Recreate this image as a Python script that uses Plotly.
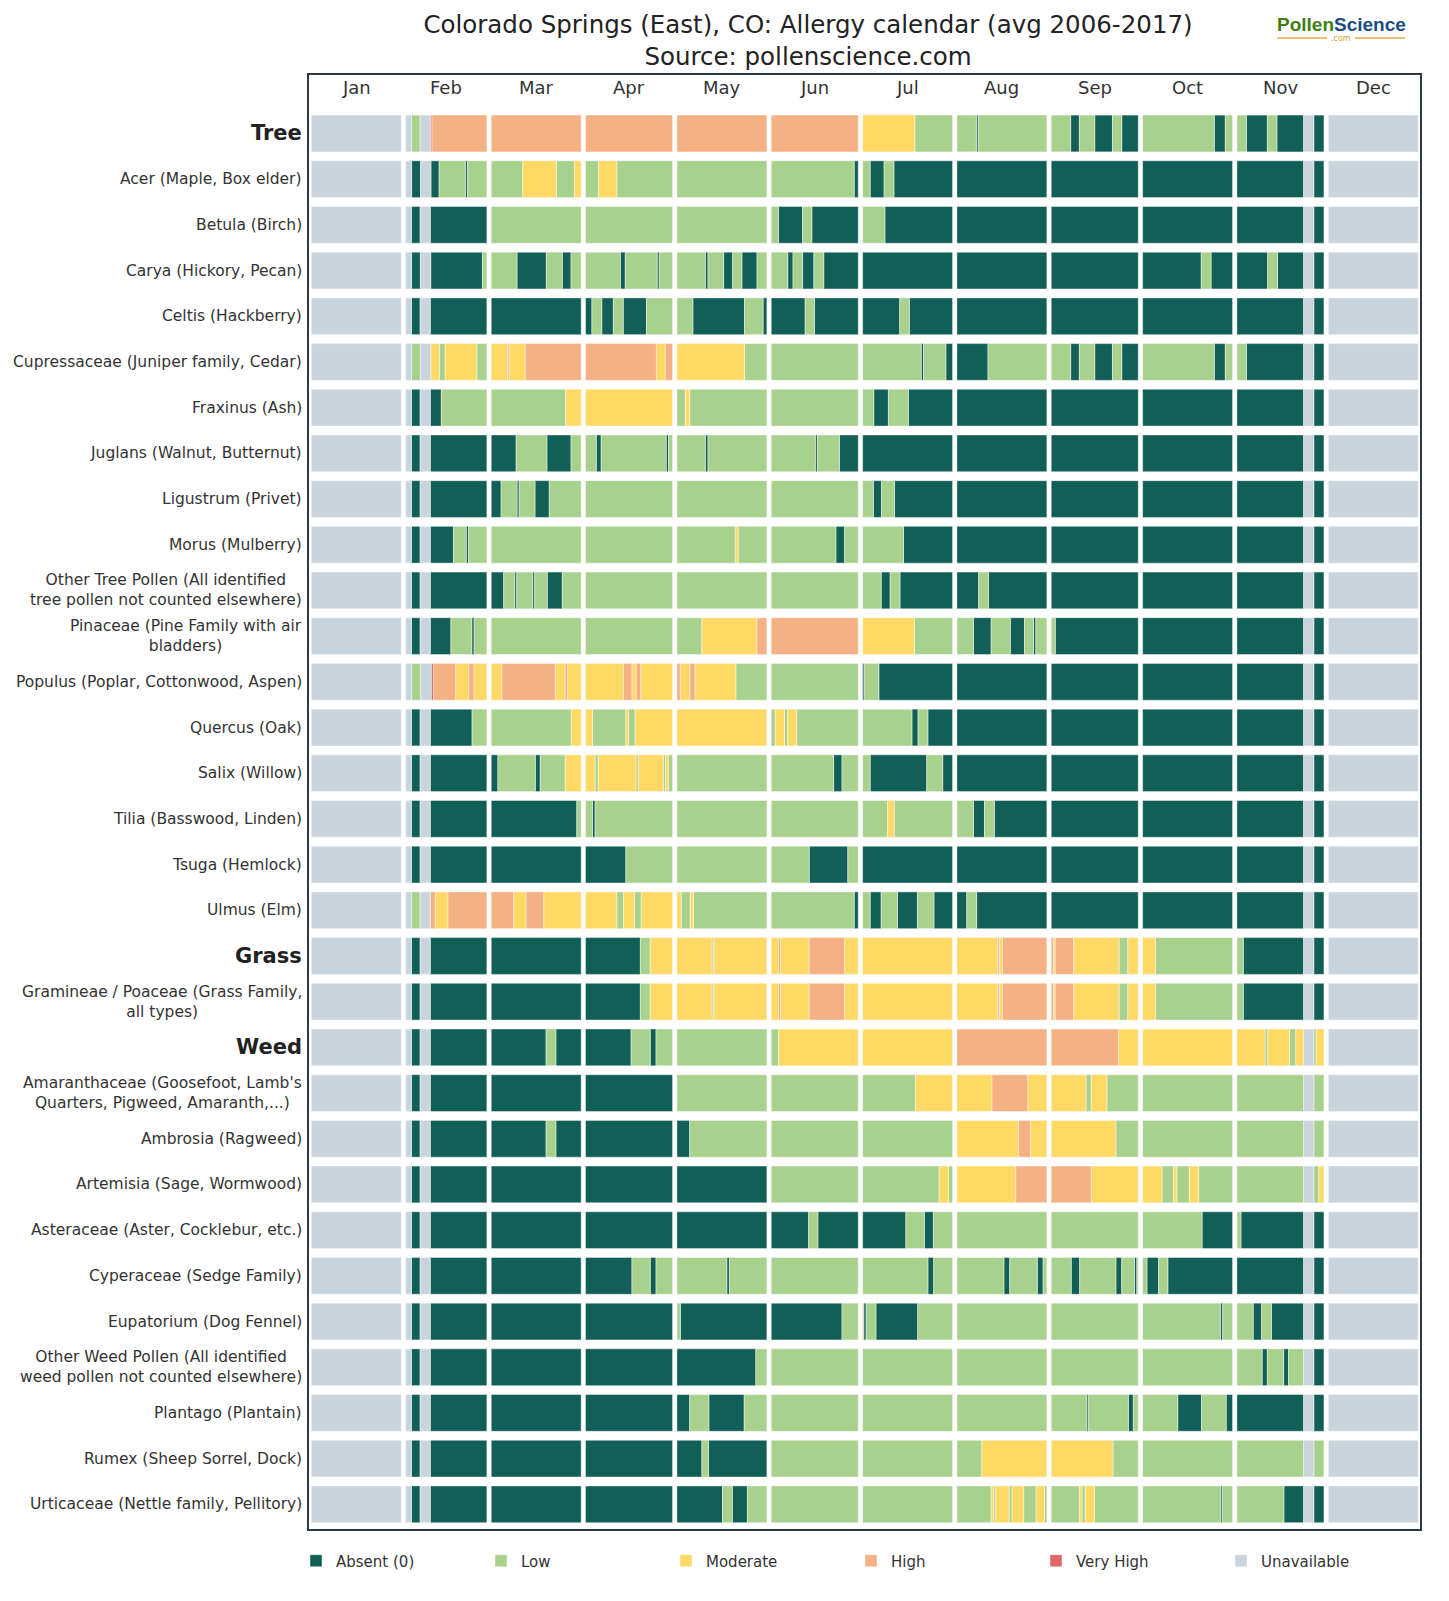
import plotly.graph_objects as go

# ---------------- data ----------------
months = ["Jan", "Feb", "Mar", "Apr", "May", "Jun", "Jul", "Aug", "Sep", "Oct", "Nov", "Dec"]
month_days = [31, 28, 31, 30, 31, 30, 31, 31, 30, 31, 30, 31]

level_codes = ["A", "L", "M", "H", "V", "U"]
level_names = ["Absent (0)", "Low", "Moderate", "High", "Very High", "Unavailable"]
level_colors = ["#125f57", "#a9d18e", "#ffd966", "#f4b183", "#e06666", "#c9d4dd"]

taxa = [
    "<b>Tree</b>",
    "Acer (Maple, Box elder)",
    "Betula (Birch)",
    "Carya (Hickory, Pecan)",
    "Celtis (Hackberry)",
    "Cupressaceae (Juniper family, Cedar)",
    "Fraxinus (Ash)",
    "Juglans (Walnut, Butternut)",
    "Ligustrum (Privet)",
    "Morus (Mulberry)",
    "Other Tree Pollen (All identified<br>tree pollen not counted elsewhere)",
    "Pinaceae (Pine Family with air<br>bladders)",
    "Populus (Poplar, Cottonwood, Aspen)",
    "Quercus (Oak)",
    "Salix (Willow)",
    "Tilia (Basswood, Linden)",
    "Tsuga (Hemlock)",
    "Ulmus (Elm)",
    "<b>Grass</b>",
    "Gramineae / Poaceae (Grass Family,<br>all types)",
    "<b>Weed</b>",
    "Amaranthaceae (Goosefoot, Lamb's<br>Quarters, Pigweed, Amaranth,...)",
    "Ambrosia (Ragweed)",
    "Artemisia (Sage, Wormwood)",
    "Asteraceae (Aster, Cocklebur, etc.)",
    "Cyperaceae (Sedge Family)",
    "Eupatorium (Dog Fennel)",
    "Other Weed Pollen (All identified<br>weed pollen not counted elsewhere)",
    "Plantago (Plantain)",
    "Rumex (Sheep Sorrel, Dock)",
    "Urticaceae (Nettle family, Pellitory)",
]
group_rows = ["<b>Tree</b>", "<b>Grass</b>", "<b>Weed</b>"]

# level runs per month (code + length in days), months separated by "|"
runs = [
    "U31 | U2 L3 U3.5 V0.5 H19 | H31 | H30 | H31 | H30 | M18 L13 | L6.7 A0.6 L23.7 | L6.7 A3 L5.3 A6.1 L3.2 A5.7 | L24.7 A3.8 L2.5 | L3.3 A7.2 L3.3 A9.2 U3.5 A3.5 | U31",
    "U31 | U2 A3 U3.5 A2.7 L8.8 A0.7 L6.5 | L10.8 M11.5 L6.2 M2.3 | L4.5 M6.3 L19.2 | L31 | L28.6 A1.4 | L2.6 A4.8 L3.4 A20.2 | A31 | A30 | A31 | A23 U3.5 A3.5 | U31",
    "U31 | U2 A3 U3.5 A19.5 | L31 | L30 | L31 | L2.5 A8.3 L3.2 A16 | L7.7 A23.3 | A31 | A30 | A31 | A23 U3.5 A3.5 | U31",
    "U31 | U2 A3 U3.5 A17.5 L1.5 | L8.9 A10.1 L5.5 A3 L3.5 | L12 A1.7 L11 A0.7 L4.6 | L9.8 A0.9 L5.4 A3.1 L3.2 A5.2 L3.4 | L5.7 A1.8 L3.3 A3.9 L3.4 A11.9 | A31 | A31 | A30 | A20.2 L3.4 A7.4 | A10.6 L3.4 A9 U3.5 A3.5 | U31",
    "U31 | U2 A3 U3.5 A19.5 | A31 | A2.2 L3.4 A4 L3.4 A8 L9 | L5.5 A17.8 L6.4 A1.3 | A11.7 L3.2 A15.1 | A12.8 L3.3 A14.9 | A31 | A30 | A31 | A23 U3.5 A3.5 | U31",
    "U31 | U2 L3 U3.5 M2.9 L2 M10.7 L3.4 | M5.7 H0.5 M5.5 H19.3 | H24.4 M3.1 H2.5 | M23.3 L7.7 | L30 | L20.2 A0.8 L7.7 A2.3 | A10.7 L20.3 | L6.7 A3 L5.3 A6.1 L3.2 A5.7 | L24.7 A3.8 L2.5 | L3.3 A19.7 U3.5 A3.5 | U31",
    "U31 | U2 A3 U3.5 A3.8 L15.7 | L25.7 M5.3 | M30 | L2.9 M1.5 L26.6 | L30 | L3.7 A4.9 L6.7 A14.7 | A31 | A30 | A31 | A23 U3.5 A3.5 | U31",
    "U31 | U2 A3 U3.5 A19.5 | A8.6 L10.6 A8.3 L3.5 | L3.7 A1.7 L22.4 A0.8 L1.4 | L9.8 A0.9 L20.3 | L15.2 A0.7 L7.6 A6.5 | A31 | A31 | A30 | A31 | A23 U3.5 A3.5 | U31",
    "U31 | U2 A3 U3.5 A19.5 | A3.4 L5.5 A0.7 L5.5 A4.9 L11 | L30 | L31 | L30 | L3.7 A2.8 L4.5 A20 | A31 | A30 | A31 | A23 U3.5 A3.5 | U31",
    "U31 | U2 A3 U3.5 A8 L4.4 A0.8 L6.3 | L31 | L30 | L20.1 M1 L9.9 | L22.3 A3 L4.7 | L14.1 A16.9 | A31 | A30 | A31 | A23 U3.5 A3.5 | U31",
    "U31 | U2 A3 U3.5 A19.5 | A4.3 L3.8 A0.7 L5.5 A0.7 L4.3 A5.2 L6.5 | L30 | L31 | L30 | L6.4 A3.1 L3.4 A18.1 | A7.5 L3.4 A20.1 | A30 | A31 | A23 U3.5 A3.5 | U31",
    "U31 | U2 A3 U3.5 A7.1 L7.2 A0.8 L4.4 | L31 | L30 | L8.6 M19 H3.4 | H30 | M17.9 L13.1 | L5.7 A6.1 L6.6 A4.9 L3.1 A0.8 L3.8 | L1.4 A28.6 | A31 | A23 U3.5 A3.5 | U31",
    "U31 | U2 L3 U3.5 V0.7 H7.4 M4.4 H1.7 M4.3 | M3.7 H18.4 M3.4 H0.8 M4.7 | M13.1 H2.9 M1.5 H1.5 M11 | H1.1 M3.4 H1.7 M14.1 L10.7 | L30 | A0.5 L5.1 A25.4 | A31 | A30 | A31 | A23 U3.5 A3.5 | U31",
    "U31 | U2 A3 U3.5 A14.4 L5.1 | L27.6 M3.4 | M2.4 L11.5 M0.9 L2.3 M12.9 | M31 | L1.4 M3.2 L1.1 M3.1 L21.2 | L17 A2.1 L3.4 A8.5 | A31 | A30 | A31 | A23 U3.5 A3.5 | U31",
    "U31 | U2 A3 U3.5 A19.5 | A2.3 L12.9 A1.7 L8.6 M5.5 | M3.3 L1.1 M13 L0.8 M8.6 L0.8 M0.9 L1.5 | L31 | L21.5 A2.9 L5.6 | L2.6 A19.5 L5.5 A3.4 | A31 | A30 | A31 | A23 U3.5 A3.5 | U31",
    "U31 | U2 A3 U3.5 A19.5 | A29.5 L1.5 | L2.4 A0.9 L26.7 | L31 | L30 | L8.6 M2.3 L20.1 | L5.7 A3.8 L3.4 A18.1 | A30 | A31 | A23 U3.5 A3.5 | U31",
    "U31 | U2 A3 U3.5 A19.5 | A31 | A13.9 L16.1 | L31 | L13.1 A13.3 L3.6 | A31 | A31 | A30 | A31 | A23 U3.5 A3.5 | U31",
    "U31 | U2 L3 U3.5 H1.7 M4.4 H13.4 | H7.7 M4.3 H6.1 M12.9 | M10.8 L2.3 M3.8 L2.3 M10.8 | M1.5 L3.1 M1.1 L25.3 | L28.6 A1.4 | L2.6 A3.8 L5.6 A6.9 L5.7 A6.4 | A3.4 L3.4 A24.2 | A30 | A31 | A23 U3.5 A3.5 | U31",
    "U31 | U2 A3 U3.5 A19.5 | A31 | A18.9 L3.4 M7.7 | M12.1 L0.6 M18.3 | M2.5 H0.7 M9.9 H12.2 M4.7 | M31 | M14.1 H0.5 M1.1 H15.3 | H0.8 M0.6 H6.3 M15.7 L3 M3.6 | M4.4 L26.6 | L2.2 A20.8 U3.5 A3.5 | U31",
    "U31 | U2 A3 U3.5 A19.5 | A31 | A18.9 L3.4 M7.7 | M12.1 L0.6 M18.3 | M2.5 H0.7 M9.9 H12.2 M4.7 | M31 | M14.1 H0.5 M1.1 H15.3 | H0.8 M0.6 H6.3 M15.7 L3 M3.6 | M4.4 L26.6 | L2.2 A20.8 U3.5 A3.5 | U31",
    "U31 | U2 A3 U3.5 A19.5 | A18.9 L3.4 A8.7 | A15.7 L6.6 A2 L5.7 | L31 | L2.5 M27.5 | M31 | H31 | H23.2 M6.8 | M31 | M9.7 L0.9 M7.5 L2.2 M2.7 U3.5 L0.8 M2.7 | U31",
    "U31 | U2 A3 U3.5 A19.5 | A31 | A30 | L31 | L30 | L18.2 M12.8 | M12.1 H12.3 M6.6 | M12 L1.8 M5.4 L10.8 | L31 | L23 U3.5 L3.5 | U31",
    "U31 | U2 A3 U3.5 A19.5 | A18.9 L3.4 A8.7 | A30 | A4.4 L26.6 | L30 | L31 | M21.3 H4 M5.7 | M22.3 L7.7 | L31 | L23 U3.5 L3.5 | U31",
    "U31 | U2 A3 U3.5 A19.5 | A31 | A30 | A31 | L30 | L26.4 M3.2 L1.4 | M20.3 H10.7 | H13.8 M16.2 | M6.7 L4 M1.1 L4.3 M3.2 L11.7 | L23 U3.5 L1.7 M1.8 | U31",
    "U31 | U2 A3 U3.5 A19.5 | A31 | A30 | A31 | A12.9 L3.2 A13.9 | A14.9 L6.4 A3.1 L6.6 | L31 | L30 | L20.5 A10.5 | L1.4 A21.6 U3.5 A3.5 | U31",
    "U31 | U2 A3 U3.5 A19.5 | A31 | A16 L6.3 A2 L5.7 | L17.2 A0.9 L12.9 | L30 | L22.5 A2 L6.5 | L16.2 A2 L9.5 A2 L1.3 | L6.9 A2.9 L12.5 A2 L4.4 A0.8 L0.5 | L1.5 A4 L3.2 A22.3 | A23 U3.5 A3.5 | U31",
    "U31 | U2 A3 U3.5 A19.5 | A31 | A30 | L1.2 A29.8 | A24.4 L5.6 | L0.4 A0.8 L3.4 A14.4 L12 | L31 | L30 | L26.8 A0.8 L3.4 | L5.6 A2.9 L3.4 A11.1 U3.5 A3.5 | U31",
    "U31 | U2 A3 U3.5 A19.5 | A31 | A30 | A27.2 L3.8 | L30 | L31 | L31 | L30 | L31 | L8.7 A1.8 L5.6 A1.7 L5.2 U3.5 A3.5 | U31",
    "U31 | U2 A3 U3.5 A19.5 | A31 | A30 | A4.4 L6.6 A12.2 L7.8 | L30 | L31 | L31 | L12.3 A0.6 L13.7 A1.7 L1.7 | L12.1 A8.2 L8.5 A2.2 | A23 U3.5 A3.5 | U31",
    "U31 | U2 A3 U3.5 A19.5 | A31 | A30 | A8.6 L2.3 A20.1 | L30 | L31 | L8.6 M22.4 | M21.3 L8.7 | L31 | L23 U3.5 L3.5 | U31",
    "U31 | U2 A3 U3.5 A19.5 | A31 | A30 | A15.7 L3.4 A5.2 L6.7 | L30 | L31 | L11.8 M0.9 L0.7 M4.6 L1 M4 L4.3 M2.9 L0.8 | L9.7 M0.9 L1.1 M3.2 L15.1 | L26.8 A0.6 L3.6 | L16.2 A6.8 U3.5 A3.5 | U31",
]

# ---------------- build ----------------
GAP = 1.5  # visual gap between months, in days
month_start = []
acc = 0
for i, d in enumerate(month_days):
    month_start.append(acc + i * GAP)
    acc += d
x_end = month_start[-1] + month_days[-1]

segs = {c: {"y": [], "base": [], "x": []} for c in level_codes}
for r, row in enumerate(runs):
    for m, part in enumerate(row.split("|")):
        vals = [(t[0], float(t[1:])) for t in part.split()]
        tot = sum(v for _, v in vals)
        scale = month_days[m] / tot
        pos = month_start[m]
        for c, v in vals:
            w = v * scale
            segs[c]["y"].append(r)
            segs[c]["base"].append(pos)
            segs[c]["x"].append(w)
            pos += w

fig = go.Figure()
for code, name, col in zip(level_codes, level_names, level_colors):
    s = segs[code]
    fig.add_trace(go.Bar(
        orientation="h", y=s["y"], x=s["x"], base=s["base"], width=0.805,
        name=name, marker=dict(color=col, line=dict(color="rgba(255,255,255,0.85)", width=0.5)),
        hoverinfo="skip", showlegend=True,
    ))

# layout geometry (pixels)
PL, PR, PT, PB = 309, 1420, 75, 1529

def px_to_paper_x(px):
    return (px - PL) / (PR - PL)

def px_to_paper_y(py):
    return (PB - py) / (PB - PT)

annotations = []
for m, name in enumerate(months):
    annotations.append(dict(
        x=month_start[m] + month_days[m] / 2, y=-1.0, xref="x", yref="y",
        text=name, showarrow=False, font=dict(size=18, color="#333333"),
    ))
for r, lab in enumerate(taxa):
    is_group = lab in group_rows
    annotations.append(dict(
        x=0, xref="paper", y=r, yref="y", xanchor="right", yanchor="middle",
        xshift=-5, align="center", showarrow=False, text=lab,
        font=dict(size=21 if is_group else 15.5, color="#222222" if is_group else "#333333"),
    ))
# logo
annotations.append(dict(
    x=px_to_paper_x(1341), y=px_to_paper_y(25), xref="paper", yref="paper",
    text="<b><span style='color:#3f7f12'>Pollen</span><span style='color:#1c4b86'>Science</span></b>",
    showarrow=False, font=dict(size=19, family="Liberation Sans"),
    xanchor="center", yanchor="middle",
))
annotations.append(dict(
    x=px_to_paper_x(1341), y=px_to_paper_y(38), xref="paper", yref="paper",
    text=".com", showarrow=False, font=dict(size=8, color="#e39b2d"),
    xanchor="center", yanchor="middle",
))

fig.update_layout(
    width=1449, height=1601,
    margin=dict(l=PL, r=1449 - PR, t=PT, b=1601 - PB),
    barmode="overlay",
    plot_bgcolor="white", paper_bgcolor="white",
    font=dict(family="DejaVu Sans", color="#333333"),
    xaxis=dict(range=[-0.8, x_end + 0.6], showgrid=False, zeroline=False,
               showticklabels=False, showline=True, mirror=True,
               linecolor="#2e3a43", linewidth=1.6, fixedrange=True),
    yaxis=dict(range=[30.54, -1.28], showgrid=False, zeroline=False,
               showticklabels=False, showline=True, mirror=True,
               linecolor="#2e3a43", linewidth=1.6, fixedrange=True),
    title=dict(
        text="Colorado Springs (East), CO: Allergy calendar (avg 2006-2017)<br>Source: pollenscience.com",
        x=808 / 1449, xref="container", xanchor="center",
        y=1 - 33 / 1601, yref="container", yanchor="top",
        font=dict(size=24.5, color="#222222"),
    ),
    legend=dict(
        orientation="h", xref="container", yref="container",
        x=296 / 1449, y=1 - 1561 / 1601, xanchor="left", yanchor="middle",
        entrywidth=140, entrywidthmode="pixels", font=dict(size=15, color="#333333"),
        traceorder="normal", itemclick=False, itemdoubleclick=False,
    ),
    annotations=annotations,
)

# logo ".com" underline decoration
for x0, x1 in [(1277, 1327), (1355, 1405)]:
    fig.add_shape(type="line", xref="paper", yref="paper",
                  x0=px_to_paper_x(x0), x1=px_to_paper_x(x1),
                  y0=px_to_paper_y(38), y1=px_to_paper_y(38),
                  line=dict(color="#e9a94a", width=1.5))

fig.write_html("out.html")
